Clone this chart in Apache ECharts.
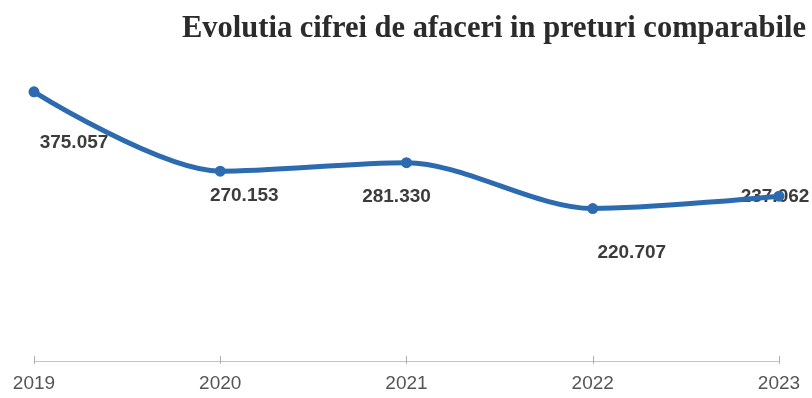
<!DOCTYPE html>
<html>
<head>
<meta charset="utf-8">
<script src="https://cdn.jsdelivr.net/npm/echarts@6/dist/echarts.min.js"></script>
<style>
  html, body { margin: 0; padding: 0; background: #ffffff; }
  #chart { width: 812px; height: 398px; }
</style>
</head>
<body>
<div id="chart"></div>
<script>
// Cifra de afaceri, preturi comparabile
const years = ['2019', '2020', '2021', '2022', '2023'];
const turnover = [375.057, 270.153, 281.330, 220.707, 237.062];
const valueLabels = ['375.057', '270.153', '281.330', '220.707', '237.062'];
const chartTitle = 'Evolutia cifrei de afaceri in preturi comparabile';

// Where each value label's centre sits relative to its point (px)
const labelOffsets = [[40, 51], [24, 25], [-10, 34], [39, 44], [-4, 1]];

const lineColor = '#2d6bb1';
const anchorSize = 2;

const chart = echarts.init(document.getElementById('chart'), null, { renderer: 'canvas' });

const categoryAxis = {
  type: 'category',
  data: years,
  boundaryGap: false,
  position: 'bottom'
};

chart.setOption({
  backgroundColor: '#ffffff',
  animation: false,
  title: {
    text: chartTitle,
    left: 182,
    top: 14,
    padding: 0,
    textStyle: {
      fontFamily: '"Liberation Serif", "Times New Roman", serif',
      fontWeight: 'bold',
      fontSize: 30.5,
      color: '#2b2b2b'
    }
  },
  grid: { left: 34, right: 33, top: 73, bottom: 37, containLabel: false },
  xAxis: [
    Object.assign({}, categoryAxis, {
      axisLine: { show: true, lineStyle: { color: '#c4c4c4', width: 1 } },
      axisTick: { show: true, inside: false, length: 3, lineStyle: { color: '#b0b0b0' } },
      axisLabel: {
        show: true,
        margin: 13,
        fontFamily: '"Liberation Sans", Arial, sans-serif',
        fontSize: 19,
        color: '#555555',
        interval: 0
      },
      splitLine: { show: false }
    }),
    Object.assign({}, categoryAxis, {
      axisLine: { show: false },
      axisTick: { show: true, inside: true, length: 5, lineStyle: { color: '#b0b0b0' } },
      axisLabel: { show: false },
      splitLine: { show: false }
    })
  ],
  yAxis: {
    type: 'value',
    min: 19,
    max: 400,
    show: false,
    splitLine: { show: false }
  },
  series: [
    {
      // value labels, drawn beneath the line
      type: 'line',
      z: 1,
      data: turnover.map((v, i) => ({
        value: v,
        label: {
          show: true,
          position: [
            anchorSize / 2 + labelOffsets[i][0],
            anchorSize / 2 + labelOffsets[i][1]
          ],
          align: 'center',
          verticalAlign: 'middle',
          formatter: () => valueLabels[i]
        }
      })),
      lineStyle: { color: 'rgba(0,0,0,0)', width: 0 },
      itemStyle: { color: 'rgba(0,0,0,0)', borderWidth: 0 },
      symbol: 'circle',
      symbolSize: anchorSize,
      showSymbol: true,
      label: {
        show: true,
        fontFamily: '"Liberation Sans", Arial, sans-serif',
        fontWeight: 'bold',
        fontSize: 19,
        color: '#3c3c3c'
      },
      labelLayout: { hideOverlap: false },
      silent: true
    },
    {
      type: 'line',
      z: 3,
      data: turnover,
      smooth: 0.3,
      symbol: 'circle',
      symbolSize: 11,
      lineStyle: { color: lineColor, width: 5 },
      itemStyle: { color: lineColor },
      label: { show: false }
    }
  ]
});
</script>
</body>
</html>
